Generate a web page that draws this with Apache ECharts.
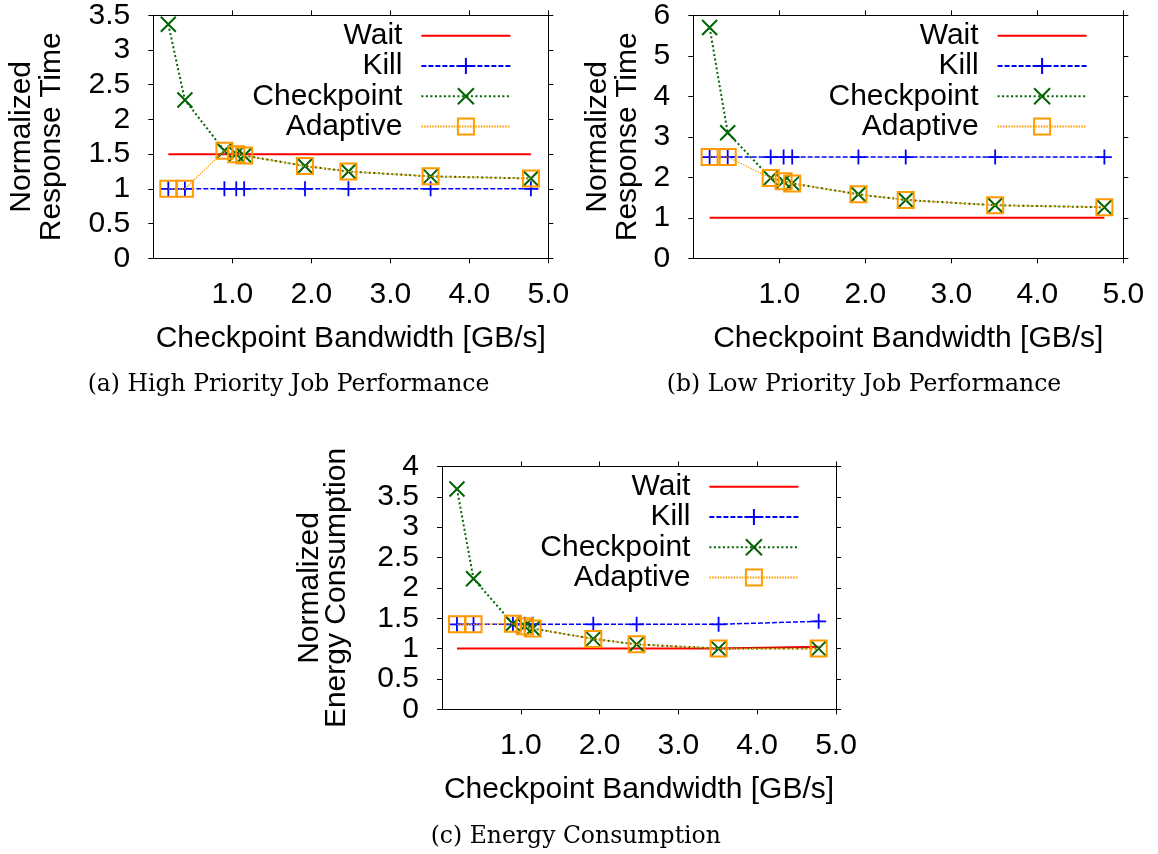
<!DOCTYPE html>
<html>
<head>
<meta charset="utf-8">
<script src="https://cdn.jsdelivr.net/npm/echarts@6/dist/echarts.min.js"></script>
<style>
  html, body { margin: 0; padding: 0; background: #fff; }
  #chart { width: 1158px; height: 854px; }
</style>
</head>
<body>
<div id="chart"></div>
<script>
// Checkpoint bandwidth (GB/s) of each measured configuration
const bandwidth = [0.19, 0.40, 0.90, 1.05, 1.15, 1.92, 2.47, 3.51, 4.78];
const xTickValues = [1, 2, 3, 4, 5];
const seriesNames = ['Wait', 'Kill', 'Checkpoint', 'Adaptive'];

// (a) high priority job: normalized response time
const highWait       = [1.5, 1.5, 1.5, 1.5, 1.5, 1.5, 1.5, 1.5, 1.5];
const highKill       = [1.0, 1.0, 1.0, 1.0, 1.0, 1.0, 1.0, 1.0, 1.0];
const highCheckpoint = [3.37, 2.28, 1.55, 1.50, 1.48, 1.33, 1.25, 1.18, 1.15];
const highAdaptive   = [1.0, 1.0, 1.55, 1.50, 1.48, 1.33, 1.25, 1.18, 1.15];

// (b) low priority job: normalized response time
const lowWait       = [1.0, 1.0, 1.0, 1.0, 1.0, 1.0, 1.0, 1.0, 1.0];
const lowKill       = [2.5, 2.5, 2.5, 2.5, 2.5, 2.5, 2.5, 2.5, 2.5];
const lowCheckpoint = [5.7, 3.1, 1.98, 1.90, 1.85, 1.58, 1.44, 1.31, 1.26];
const lowAdaptive   = [2.5, 2.5, 1.98, 1.90, 1.85, 1.58, 1.44, 1.31, 1.26];

// (c) normalized energy consumption
const energyWait       = [1.0, 1.0, 1.0, 1.0, 1.0, 1.0, 1.0, 1.0, 1.03];
const energyKill       = [1.4, 1.4, 1.4, 1.4, 1.4, 1.4, 1.4, 1.4, 1.45];
const energyCheckpoint = [3.63, 2.15, 1.41, 1.37, 1.33, 1.16, 1.07, 1.0, 1.0];
const energyAdaptive   = [1.4, 1.4, 1.41, 1.37, 1.33, 1.16, 1.07, 1.0, 1.0];

const SANS = 'Liberation Sans';
const SERIF = 'DejaVu Serif';

const plusPath = 'path://M0,5L10,5M5,0L5,10';
const crossPath = 'path://M0,0L10,10M10,0L0,10';

const styles = {
  Wait:       { color: '#ff0000', width: 2,   type: 'solid',    symbol: 'circle',  size: 2,  fill: 'transparent', border: 0 },
  Kill:       { color: '#0000ff', width: 1.5, type: [5, 2],     symbol: plusPath,  size: 15, fill: '#0000ff',     border: 1.8 },
  Checkpoint: { color: '#006400', width: 2,   type: [2, 2.5],   symbol: crossPath, size: 15, fill: '#006400',     border: 2 },
  Adaptive:   { color: '#ff9900', width: 1.2, type: [1.5, 1.2], symbol: 'rect',    size: 16, fill: 'transparent', border: 2 }
};

const panels = [
  {
    values: [highWait, highKill, highCheckpoint, highAdaptive],
    yMax: 3.5, yStep: 0.5,
    grid: { left: 153.3, top: 15.3, width: 395, height: 243 },
    yName: 'Normalized\nResponse Time', yNamePos: [36.4, 136.8], yNameLH: 30,
    xNamePos: [350.8, 338.5],
    caption: '(a) High Priority Job Performance', captionPos: [288.5, 384.5],
    legendRight: 646.6, legendTop: 20.7
  },
  {
    values: [lowWait, lowKill, lowCheckpoint, lowAdaptive],
    yMax: 6, yStep: 1,
    grid: { left: 693.3, top: 15.3, width: 430, height: 243 },
    yName: 'Normalized\nResponse Time', yNamePos: [612.3, 136.8], yNameLH: 30,
    xNamePos: [908.3, 338.5],
    caption: '(b) Low Priority Job Performance', captionPos: [864, 384.5],
    legendRight: 70.4, legendTop: 20.7
  },
  {
    values: [energyWait, energyKill, energyCheckpoint, energyAdaptive],
    yMax: 4, yStep: 0.5,
    grid: { left: 442, top: 466.5, width: 394, height: 242.8 },
    yName: 'Normalized\nEnergy Consumption', yNamePos: [323, 588], yNameLH: 27,
    xNamePos: [639, 790],
    caption: '(c) Energy Consumption', captionPos: [575.8, 836.5],
    legendRight: 358.6, legendTop: 471.7
  }
];

const axisLine = { show: true, onZero: false, lineStyle: { color: '#000', width: 1 } };
const tickStyle = { color: '#000', width: 1 };
const labelFont = { fontSize: 30, fontFamily: SANS, color: '#000' };

const xAxis = [];
const yAxis = [];
const series = [];
const graphic = [];

panels.forEach((p, i) => {
  ['bottom', 'top'].forEach(pos => {
    xAxis.push({
      gridIndex: i, type: 'value', position: pos, min: 0, max: 5, interval: 1,
      axisLine: axisLine,
      axisTick: { show: true, inside: false, length: 5, customValues: xTickValues, lineStyle: tickStyle },
      axisLabel: pos === 'bottom'
        ? Object.assign({ customValues: xTickValues, margin: 21, formatter: v => v.toFixed(1) }, labelFont)
        : { show: false },
      splitLine: { show: false }
    });
  });
  ['left', 'right'].forEach(pos => {
    yAxis.push({
      gridIndex: i, type: 'value', position: pos, min: 0, max: p.yMax, interval: p.yStep,
      axisLine: axisLine,
      axisTick: { show: true, inside: false, length: 5, lineStyle: tickStyle },
      axisLabel: pos === 'left' ? Object.assign({ margin: 23 }, labelFont) : { show: false },
      splitLine: { show: false }
    });
  });

  seriesNames.forEach((name, k) => {
    const st = styles[name];
    series.push({
      type: 'line', name: name,
      xAxisIndex: 2 * i, yAxisIndex: 2 * i,
      data: bandwidth.map((x, j) => [x, p.values[k][j]]),
      symbol: st.symbol, symbolSize: st.size,
      showSymbol: name !== 'Wait',
      lineStyle: { color: st.color, width: st.width, type: st.type },
      itemStyle: { color: st.fill, borderColor: st.color, borderWidth: st.border },
      emphasis: { disabled: true },
      z: 2 + k
    });
  });

  graphic.push(
    {
      type: 'text', x: p.yNamePos[0], y: p.yNamePos[1], rotation: Math.PI / 2,
      style: { text: p.yName, fontSize: 30, fontFamily: SANS, fill: '#000',
               align: 'center', verticalAlign: 'middle', lineHeight: p.yNameLH }
    },
    {
      type: 'text', x: p.xNamePos[0], y: p.xNamePos[1],
      style: { text: 'Checkpoint Bandwidth [GB/s]', fontSize: 30, fontFamily: SANS, fill: '#000',
               align: 'center', verticalAlign: 'middle' }
    },
    {
      type: 'text', x: p.captionPos[0], y: p.captionPos[1],
      style: { text: p.caption, fontSize: 23.5, fontFamily: SERIF, fill: '#000',
               align: 'center', verticalAlign: 'middle' }
    }
  );
});

const legend = panels.map(p => ({
  orient: 'vertical', align: 'right',
  right: p.legendRight, top: p.legendTop,
  padding: 0, itemGap: 0.3, itemWidth: 89, itemHeight: 20,
  selectedMode: false,
  data: seriesNames,
  textStyle: { fontSize: 30, fontFamily: SANS, color: '#000', lineHeight: 30, padding: [0, 14, 0, 0] }
}));

const chart = echarts.init(document.getElementById('chart'), null, { renderer: 'canvas' });
chart.setOption({
  animation: false,
  backgroundColor: '#fff',
  grid: panels.map(p => Object.assign({ outerBoundsMode: 'none', containLabel: false }, p.grid)),
  xAxis: xAxis,
  yAxis: yAxis,
  legend: legend,
  series: series,
  graphic: graphic
});
</script>
</body>
</html>
